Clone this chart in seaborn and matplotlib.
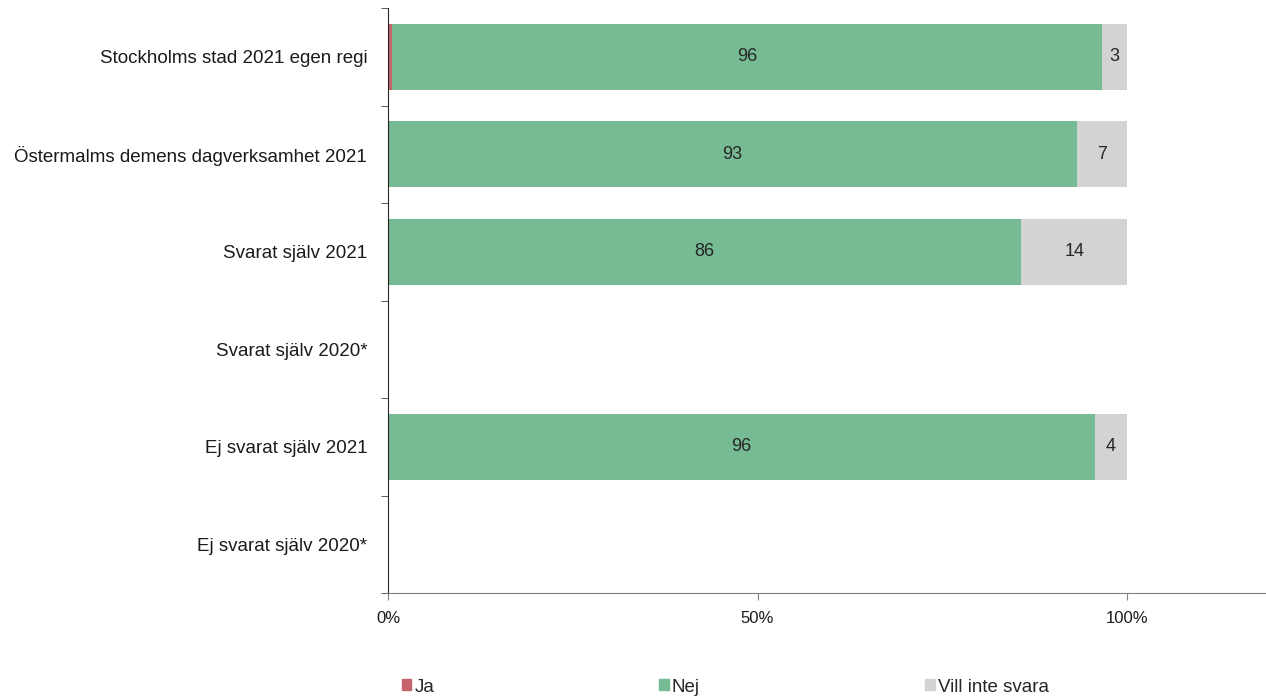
import pandas as pd
import numpy as np
import seaborn as sns
from matplotlib import pyplot as plt
from matplotlib.patches import Patch

categories = ["Stockholms stad 2021 egen regi", "Östermalms demens dagverksamhet 2021",
              "Svarat själv 2021", "Svarat själv 2020*", "Ej svarat själv 2021",
              "Ej svarat själv 2020*"]
ja = [0.5, 0.0, 0.0, np.nan, 0.0, np.nan]
nej = [96.1, 93.2, 85.7, np.nan, 95.6, np.nan]
vill = [3.4, 6.8, 14.3, np.nan, 4.4, np.nan]
series = ["Ja", "Nej", "Vill inte svara"]
colors = ["#C4636B", "#76BB93", "#D3D3D3"]

sns.set_style("white")
plt.rcParams['font.family'] = ['Liberation Sans', 'DejaVu Sans']

df = pd.DataFrame({"cat": categories, "Ja": ja, "Nej": nej, "Vill inte svara": vill})
df["c1"] = df["Ja"]
df["c2"] = df["Ja"] + df["Nej"]
df["c3"] = df["c2"] + df["Vill inte svara"]
present = df.dropna()

fig = plt.figure(figsize=(12.66, 6.99), dpi=100)
ax = fig.add_axes([388 / 1266, 1 - 593 / 699, 1 - 388 / 1266, (593 - 8) / 699])

# stacked bars drawn from the total downwards
for col, c in zip(["c3", "c2", "c1"], colors[::-1]):
    sns.barplot(data=present, x=col, y="cat", order=categories, color=c,
                width=0.68, orient="h", saturation=1, ax=ax, linewidth=0)

for i, row in df.iterrows():
    if pd.isna(row["Nej"]):
        continue
    ax.text(row["Ja"] + row["Nej"] / 2, i, f"{row['Nej']:.0f}", ha="center", va="center",
            fontsize=13, color="#262626")
    ax.text(row["c2"] + row["Vill inte svara"] / 2, i, f"{row['Vill inte svara']:.0f}",
            ha="center", va="center", fontsize=13, color="#262626")

ax.set_xlim(0, 118.8)
ax.set_ylim(len(categories) - 0.5, -0.5)
ax.set_xticks([0, 50, 100])
ax.set_xticklabels(["0%", "50%", "100%"], fontsize=12, color="#1a1a1a")
ax.set_yticks(range(len(categories)))
ax.set_yticklabels(categories, fontsize=13.5, color="#1a1a1a")
ax.set_yticks(np.arange(-0.5, len(categories), 1), minor=True)
ax.tick_params(axis="y", which="major", length=0, pad=15)
ax.tick_params(axis="y", which="minor", length=5, color="#404040", direction="out", left=True)
ax.tick_params(axis="x", length=5, color="#808080", pad=8, bottom=True)
ax.set_xlabel("")
ax.set_ylabel("")
for s in ["top", "right"]:
    ax.spines[s].set_visible(False)
ax.spines["left"].set_color("#262626")
ax.spines["bottom"].set_color("#808080")

for name, c, x in zip(series, colors, [394, 651.5, 917.5]):
    fig.legend(handles=[Patch(color=c)], labels=[name], loc="center left",
               bbox_to_anchor=(x / 1266, 1 - 687 / 699), frameon=False, fontsize=13.5,
               handlelength=0.53, handleheight=0.53, handletextpad=0.15, borderaxespad=0)

fig.savefig("out.png", dpi=100)
